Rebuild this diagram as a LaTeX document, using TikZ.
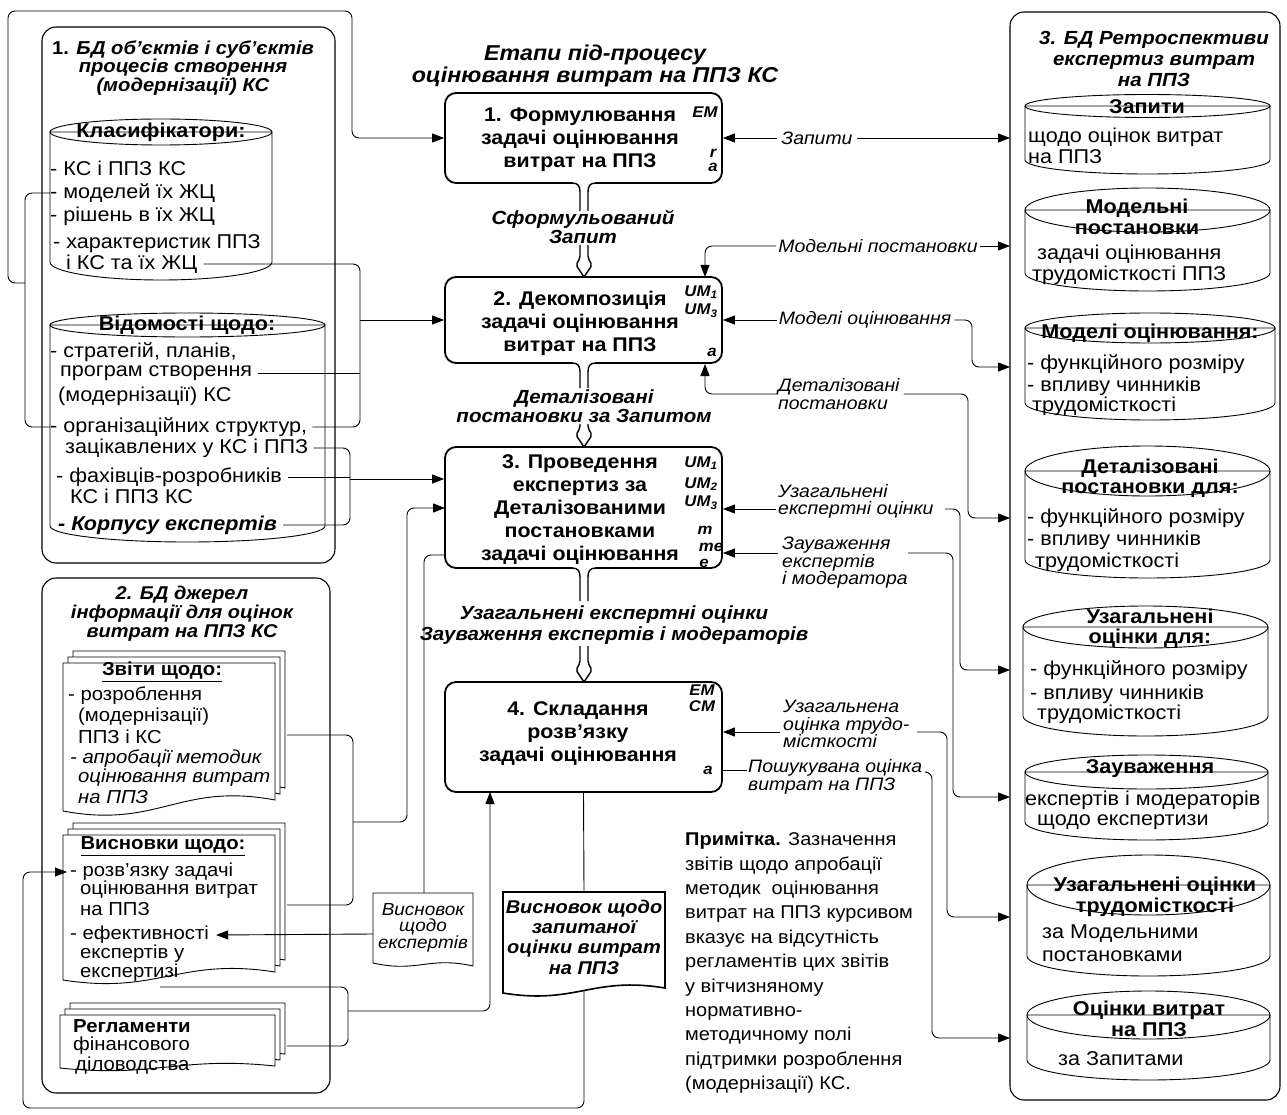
\documentclass[tikz,border=0pt]{standalone}
\usepackage{fontspec}
\setmainfont{Liberation Sans}[FakeStretch=1.08]
\usetikzlibrary{arrows.meta}
\newcommand\fPr{\fontsize{19.8}{23}\selectfont\bfseries}
\newcommand\fDb{\fontsize{20}{21}\selectfont}
\newcommand\fDbB{\fontsize{20}{20.5}\selectfont\bfseries}
\newcommand\fLb{\fontsize{18}{17.5}\selectfont\itshape}
\newcommand\fBi{\fontsize{19}{18.5}\selectfont\bfseries\itshape}
\newcommand\fTag{\fontsize{15.5}{15}\selectfont\bfseries\itshape}
\newcommand\fDoc{\fontsize{18.8}{20}\selectfont}
\newcommand\dbcyl[6]{%
 \pgfmathsetmacro\dbcx{(#1+#2)/2}\pgfmathsetmacro\dbrx{(#2-#1)/2}%
 \filldraw[dbl,fill=white] (#1,#3) -- (#1,#5) .. controls (#1,#5+0.5523*#6) and (\dbcx-0.5523*\dbrx,#5+#6) .. (\dbcx,#5+#6) .. controls (\dbcx+0.5523*\dbrx,#5+#6) and (#2,#5+0.5523*#6) .. (#2,#5) -- (#2,#3) -- cycle;
 \draw[dbl] (\dbcx,#3) ellipse [x radius=\dbrx, y radius=#4];}
\newcommand\docshape[7][]{%
 \filldraw[dbl,fill=white,#1] (#2,#5) -- (#2,#4) -- (#3,#4) -- (#3,#6) .. controls ({(#3)-0.45*((#3)-(#2))},{(#6)-(#7)}) and ({(#2)+0.45*((#3)-(#2))},{(#5)+(#7)}) .. (#2,#5) -- cycle;}
\newcommand\stackdoc[6]{\docshape{#1+10}{#2+10}{#3-12}{#4-12}{#5-12}{#6}\docshape{#1+5}{#2+5}{#3-6}{#4-6}{#5-6}{#6}\docshape{#1}{#2}{#3}{#4}{#5}{#6}}
\newcommand\pipe[5]{%
 \fill[white] (#1-11,#2-1.3) rectangle (#1+11,#2+1.5);
 \draw[pipel] (#1-12,#2) .. controls (#1-6,#2) and (#1-4,#2+3) .. (#1-4,#2+9) -- (#1-4,#3);
 \draw[pipel] (#1+12,#2) .. controls (#1+6,#2) and (#1+4,#2+3) .. (#1+4,#2+9) -- (#1+4,#3);
 \draw[pipel, rounded corners=2pt] (#1-4,#4) -- (#1-4,#5-19) -- (#1-8,#5-12) -- (#1,#5) -- (#1+8,#5-12) -- (#1+4,#5-19) -- (#1+4,#4);}
\begin{document}
\begin{tikzpicture}[x=1pt,y=-1pt,
 conn/.style={line width=0.9pt, rounded corners=7pt},
 ar/.style={-{Triangle[length=12pt,width=9pt]}},
 dbl/.style={line width=0.9pt},
 pipel/.style={line width=1.4pt},
 procbox/.style={draw, line width=1.8pt, rounded corners=11pt, minimum width=277pt, inner sep=0pt, fill=white},
 ptxt/.style={inner sep=0pt, align=center, font=\fPr},
 container/.style={draw, line width=1.1pt, rounded corners=14pt, inner sep=0pt},
 tx/.style={inner sep=0pt, anchor=west, font=\fDb},
 hd/.style={inner sep=0pt, align=center, font=\fDbB},
 dt/.style={inner sep=0pt, anchor=west, font=\fDoc},
 lb/.style={inner sep=0pt, anchor=west, align=left, font=\fLb},
 bi/.style={inner sep=0pt, align=center, font=\fBi},
 tg/.style={inner sep=0pt, font=\fTag}]
\fill[white] (0,0) rectangle (1287,1115);
\useasboundingbox (0,0) rectangle (1287,1115);

% ---------- containers ----------
\node[container, minimum width=293pt, minimum height=536pt] (bd1) at (188.5,295) {};
\node[container, minimum width=288pt, minimum height=515pt] (bd2) at (186,835.5) {};
\node[container, minimum width=270pt, minimum height=1088pt] (bd3) at (1145,556) {};

\node[inner sep=0pt, align=center, font=\fontsize{18.7}{18.5}\selectfont\bfseries] (bd1t) at (183,68) {1. \textit{БД об’єктів і суб’єктів}\\\textit{процесів створення}\\\textit{(модернізації) КС}};
\node[inner sep=0pt, align=center, font=\fontsize{18.5}{19}\selectfont\bfseries\itshape] (bd2t) at (182,614) {2. БД джерел\\інформації для оцінок\\витрат на ППЗ КС};
\node[inner sep=0pt, align=center, font=\fontsize{19}{21}\selectfont\bfseries\itshape] (bd3t) at (1154,59) {3. БД Ретроспективи\\експертиз витрат\\на ППЗ};

% ---------- left DB 1 ----------
\dbcyl{50}{272}{132}{13}{262}{18}
\node[hd] (klh) at (161,132) {Класифікатори:};
\node[tx] (kl1) at (50,168) {- КС і ППЗ КС};
\node[tx] (kl2) at (50,193) {- моделей їх ЖЦ};
\node[tx] (kl3) at (50,216) {- рішень в їх ЖЦ};
\node[tx] (kl4) at (53,244) {- характеристик ППЗ};
\node[tx] (kl5) at (66,264) {і КС та їх ЖЦ};

\dbcyl{50}{325}{325}{12}{526}{16}
\node[hd] (vdh) at (187,325) {Відомості щодо:};
\node[tx] (vd1) at (50,352) {- стратегій, планів,};
\node[tx] (vd2) at (60,373) {програм створення};
\node[tx] (vd3) at (58,396) {(модернізації) КС};
\node[tx] (vd4) at (50,427) {- організаційних структур,};
\node[tx] (vd5) at (65,448) {зацікавлених у КС і ППЗ};
\node[tx] (vd6) at (56,477) {- фахівців-розробників};
\node[tx] (vd7) at (70,496) {КС і ППЗ КС};
\node[tx, font=\fDb\bfseries\itshape] (vd8) at (58,525) {- Корпусу експертів};

% ---------- left DB 2 ----------
\stackdoc{63}{275}{663}{811}{800}{18}
\node[inner sep=0pt, font=\fDoc\bfseries] (zvh) at (162,672) {\underline{Звіти щодо:}};
\node[dt] (zv1) at (68,696) {- розроблення};
\node[dt] (zv2) at (78,717) {(модернізації)};
\node[dt] (zv3) at (78,737) {ППЗ і КС};
\node[dt, font=\fDoc\itshape] (zv4) at (70,759) {- апробації методик};
\node[dt, font=\fDoc\itshape] (zv5) at (78,778) {оцінювання витрат};
\node[dt, font=\fDoc\itshape] (zv6) at (78,797) {на ППЗ};

\stackdoc{63}{275}{835}{980}{972}{15}
\node[inner sep=0pt, font=\fDoc\bfseries] (vsh) at (163,846) {\underline{Висновки щодо:}};
\node[dt] (vs1) at (70,872) {- розв’язку задачі};
\node[dt] (vs2) at (80,890) {оцінювання витрат};
\node[dt] (vs3) at (80,909) {на ППЗ};
\node[dt] (vs5) at (70,935) {- ефективності};
\node[dt] (vs6) at (80,954) {експертів у};
\node[dt] (vs7) at (80,973) {експертизі};

\stackdoc{60}{275}{1015}{1068}{1066}{10}
\node[dt, font=\fDoc\bfseries] (rg1) at (73,1026) {Регламенти};
\node[dt] (rg2) at (73,1046) {фінансового};
\node[dt] (rg3) at (75,1066) {діловодства};

% ---------- right DBs ----------
\dbcyl{1025}{1270}{106}{11.5}{160}{14}
\node[hd] (zh) at (1147,107) {Запити};
\node[tx] (z1) at (1028,137) {щодо оцінок витрат};
\node[tx] (z2) at (1028,157) {на ППЗ};

\dbcyl{1025}{1270}{210}{22}{273}{18}
\node[hd] (mh) at (1137,217) {Модельні\\постановки};
\node[tx] (m1) at (1037,254) {задачі оцінювання};
\node[tx] (m2) at (1032,275) {трудомісткості ППЗ};

\dbcyl{1025}{1275}{328}{15}{403}{17}
\node[hd] (moh) at (1150,333) {Моделі оцінювання:};
\node[tx] (mo1) at (1027,364) {- функційного розміру};
\node[tx] (mo2) at (1027,386) {- впливу чинників};
\node[tx] (mo3) at (1032,406) {трудомісткості};

\dbcyl{1025}{1270}{471}{25}{560}{18}
\node[hd] (dh) at (1150,478) {Деталізовані\\постановки для:};
\node[tx] (d1) at (1027,518) {- функційного розміру};
\node[tx] (d2) at (1027,540) {- впливу чинників};
\node[tx] (d3) at (1035,562) {трудомісткості};

\dbcyl{1023}{1268}{627}{21}{716}{20}
\node[hd] (uh) at (1150,628) {Узагальнені\\оцінки для:};
\node[tx] (u1) at (1030,670) {- функційного розміру};
\node[tx] (u2) at (1030,694) {- впливу чинників};
\node[tx] (u3) at (1037,714) {трудомісткості};

\dbcyl{1025}{1268}{772}{17}{822}{18}
\node[hd] (zah) at (1150,769) {Зауваження};
\node[tx] (za1) at (1025,800) {експертів і модераторів};
\node[tx] (za2) at (1037,822) {щодо експертизи};

\dbcyl{1027}{1270}{885}{30}{956}{20}
\node[hd] (uth) at (1155,897) {Узагальнені оцінки\\трудомісткості};
\node[tx] (ut1) at (1042,934) {за Модельними};
\node[tx] (ut2) at (1042,956) {постановками};

\dbcyl{1027}{1270}{1015}{24}{1060}{20}
\node[hd] (ovh) at (1149,1019) {Оцінки витрат\\на ППЗ};
\node[tx] (ov1) at (1058,1059) {за Запитами};

% ---------- process boxes ----------
\node[inner sep=0pt, align=center, font=\fontsize{21.5}{22}\selectfont\bfseries\itshape] (ttl) at (595,66) {Етапи під-процесу\\оцінювання витрат на ППЗ КС};

\node[procbox, minimum height=90pt] (p1) at (583.5,138) {};
\node[procbox, minimum height=86pt] (p2) at (583.5,320) {};
\node[procbox, minimum height=121pt] (p3) at (583.5,507.5) {};
\node[procbox, minimum height=110pt] (p4) at (583.5,737) {};

\node[ptxt] (p1t) at (580,140) {1. Формулювання\\задачі оцінювання\\витрат на ППЗ};
\node[ptxt] (p2t) at (580,323) {2. Декомпозиція\\задачі оцінювання\\витрат на ППЗ};
\node[ptxt] (p3t) at (580,510) {3. Проведення\\експертиз за\\Деталізованими\\постановками\\задачі оцінювання};
\node[ptxt] (p4t) at (578,734) {4. Складання\\розв’язку\\задачі оцінювання};

\node[tg] (t11) at (705,112) {EM};
\node[tg] (t12) at (713,153) {r};
\node[tg] (t13) at (713,167) {a};
\node[tg] (t21) at (701,292) {UM\textsubscript{1}};
\node[tg] (t22) at (701,311) {UM\textsubscript{3}};
\node[tg] (t23) at (712,352) {a};
\node[tg] (t31) at (701,463) {UM\textsubscript{1}};
\node[tg] (t32) at (701,484) {UM\textsubscript{2}};
\node[tg] (t33) at (701,503) {UM\textsubscript{3}};
\node[tg] (t34) at (705,530) {m};
\node[tg] (t35) at (711,547) {me};
\node[tg] (t36) at (704,563) {e};
\node[tg] (t41) at (702,690) {EM};
\node[tg] (t42) at (702,706) {CM};
\node[tg] (t43) at (708,770) {a};

% pipes between boxes
\pipe{584}{183}{211}{245}{277}
\pipe{584}{363}{388}{424}{447}
\pipe{584}{568}{601}{646}{682}
\node[bi] (lb1) at (583,227) {Сформульований\\Запит};
\node[bi] (lb2) at (584,406) {Деталізовані\\постановки за Запитом};
\node[bi, font=\fontsize{19}{21}\selectfont\bfseries\itshape] (lb3) at (614,625) {Узагальнені експертні оцінки\\Зауваження експертів і модераторів};

% documents in the middle
\docshape{373}{473}{893}{963}{966}{10}
\node[inner sep=0pt, align=center, font=\fontsize{17.5}{15.5}\selectfont\itshape] (dvet) at (423,928) {Висновок\\щодо\\експертів};
\docshape[line width=1.6pt]{503}{665}{892}{993}{988}{12}
\node[inner sep=0pt, align=center, font=\fontsize{18.5}{20.4}\selectfont\bfseries\itshape] (dvzt) at (584,937) {Висновок щодо\\запитаної\\оцінки витрат\\на ППЗ};

% note
\node[inner sep=0pt, anchor=west, align=left, font=\fontsize{18.5}{24.4}\selectfont] (note) at (685,963) {\textbf{Примітка.} Зазначення\\звітів щодо апробації\\методик\ \ оцінювання\\витрат на ППЗ курсивом\\вказує на відсутність\\регламентів цих звітів\\у вітчизняному\\нормативно-\\методичному полі\\підтримки розроблення\\(модернізації) КС.};

% right labels
\node[inner sep=0pt, font=\fLb] (lz1) at (817,138) {Запити};
\node[inner sep=0pt, font=\fLb] (lz2) at (878,246) {Модельні постановки};
\node[inner sep=0pt, font=\fLb] (lz3) at (865,320) {Моделі оцінювання};
\node[lb] (lz4) at (778,394) {Деталізовані\\постановки};
\node[lb] (lz5) at (778,501.5) {Узагальнені\\експертні оцінки};
\node[lb] (lz6) at (782,563) {Зауваження\\експертів\\і модератора};
\node[lb] (lz7) at (783,724) {Узагальнена\\оцінка трудо-\\місткості};
\node[lb] (lz8) at (748,777) {Пошукувана оцінка\\витрат на ППЗ};

% ---------- connectors: left ----------
\coordinate (j1) at (25,283);
\draw[conn,ar] (j1) -- (8,283) -- (8,11) -- (352,11) -- (352,138) -- (p1.west);
\draw[conn] (kl2.west) -- (25,193) |- (vd4.west);
\draw[conn] ([xshift=6pt]kl5.east) -| (360,340) |- ([xshift=5pt]vd4.east);
\draw[conn] ([xshift=6pt]vd2.east) -- (360,373);
\coordinate (c2a) at (360,320);
\draw[conn,ar] (c2a) -- (p2.west);
\draw[conn] ([xshift=5pt]vd5.east) -| (350,490) |- ([xshift=6pt]vd8.east);
\draw[conn] ([xshift=6pt]vd6.east) -- (350,477);
\coordinate (c3a) at (350,479);
\draw[conn,ar] (c3a) -- (c3a -| p3.west);
\coordinate (zvR) at (287,735);
\coordinate (vsR) at (287,905);
\draw[conn] (zvR) -| (353,820) |- (vsR);
\coordinate (c3j) at (353,822);
\coordinate (c3b) at (445,508);
\draw[conn,ar] (c3j) -| (407,700) |- (c3b);
\coordinate (vsB) at (160,987);
\coordinate (rgR) at (287,1046);
\draw[conn] (vsB) -| (348,1015) |- (rgR);
\coordinate (c4j) at (348,1011);
\coordinate (c4b) at (490,792);
\draw[conn,ar] (c4j) -| (c4b);
\coordinate (p3o) at (445,555);
\coordinate (dveT) at (424,893);
\draw[conn] (p3o) -| (dveT);
\coordinate (dveL) at (373,934);
\draw[conn,ar] (dveL) -- ([xshift=7pt]vs5.east);
\coordinate (dvzT) at (584,892);
\coordinate (dvzB) at (584,991);
\draw[conn] (p4.south) -- (dvzT);
\draw[conn,ar] (dvzB) |- (23,1108) |- ([xshift=-3pt]vs1.west);

% ---------- connectors: right ----------
\coordinate (r1) at (1010,138);
\draw[conn,ar] ([xshift=-4pt]lz1.west) -- (p1.east);
\draw[conn,ar] ([xshift=4pt]lz1.east) -- (r1);
\coordinate (p2n) at (705,277);
\coordinate (r2) at (1010,246);
\draw[conn,ar] ([xshift=-2pt]lz2.west) -| (p2n);
\draw[conn,ar] ([xshift=2pt]lz2.east) -- (r2);
\coordinate (r3) at (1010,367);
\draw[conn,ar] ([xshift=-2pt]lz3.west) -- (p2.east);
\draw[conn,ar] ([xshift=3pt]lz3.east) -| (972,340) |- (r3);
\coordinate (p2s) at (705,364);
\coordinate (r4) at (1010,518);
\draw[conn,ar] ([xshift=-2pt]lz4.west) -| (p2s);
\draw[conn,ar] ([xshift=4pt]lz4.east) -| (968,450) |- (r4);
\coordinate (l5a) at (776,509);
\coordinate (l5b) at (945,509);
\coordinate (r5) at (1010,670);
\draw[conn,ar] (l5a) -- (l5a -| p3.east);
\draw[conn,ar] (l5b) -| (960,600) |- (r5);
\coordinate (l6a) at (778,553);
\coordinate (l6b) at (908,553);
\coordinate (r6) at (1010,797);
\draw[conn,ar] (l6a) -- (l6a -| p3.east);
\draw[conn,ar] (l6b) -| (953,700) |- (r6);
\coordinate (l7a) at (780,732);
\coordinate (l7b) at (917,732);
\coordinate (r7) at (1010,917);
\draw[conn,ar] (l7a) -- (l7a -| p4.east);
\draw[conn,ar] (l7b) -| (947,800) |- (r7);
\coordinate (p4a) at (722,770);
\coordinate (l8a) at (747,770);
\coordinate (l8b) at (927,772);
\coordinate (r8) at (1010,1038);
\draw[conn] (p4a) -- (l8a);
\draw[conn,ar] (l8b) -| (932,900) |- (r8);
\end{tikzpicture}
\end{document}
